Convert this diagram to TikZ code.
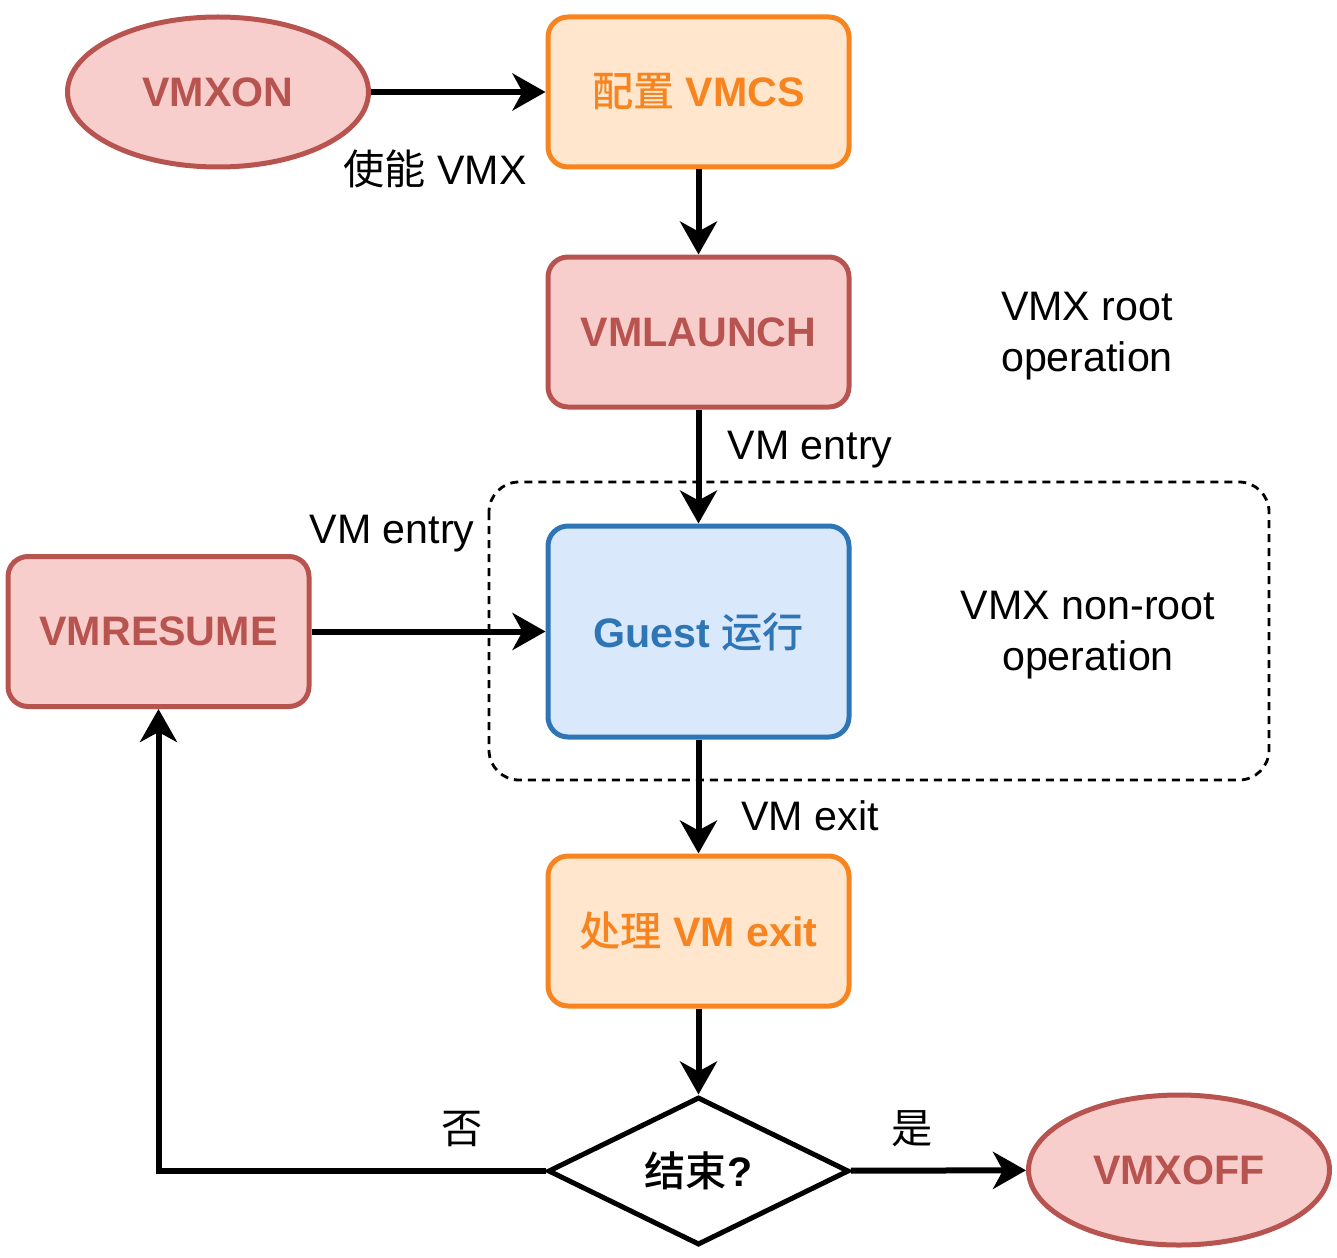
\documentclass[tikz,border=0pt]{standalone}
\usepackage{fontspec}
\setmainfont{Liberation Sans}
\newfontfamily\cjk{Noto Sans CJK SC}[BoldFont={Noto Sans CJK SC Medium}]
\usetikzlibrary{arrows.meta,shapes.geometric}
\definecolor{pinkfill}{HTML}{F8CECC}
\definecolor{pinkline}{HTML}{B85450}
\definecolor{orfill}{HTML}{FFE6CC}
\definecolor{orline}{HTML}{F7841E}
\definecolor{blfill}{HTML}{DAE8FC}
\definecolor{blline}{HTML}{2E75B6}
\begin{document}
\begin{tikzpicture}[x=0.5pt,y=-0.5pt,
  base/.style={line width=2.5pt, font=\fontsize{20.6pt}{24.7pt}\selectfont\bfseries, inner sep=0pt, align=center},
  pinkbox/.style={base, draw=pinkline, fill=pinkfill, text=pinkline, rounded corners=10pt, minimum width=150.5pt, minimum height=75pt},
  orbox/.style={base, draw=orline, fill=orfill, text=orline, rounded corners=10pt, minimum width=150.5pt, minimum height=75pt},
  blbox/.style={base, draw=blline, fill=blfill, text=blline, rounded corners=10pt, minimum width=150.5pt, minimum height=105.5pt},
  pinkell/.style={base, ellipse, draw=pinkline, fill=pinkfill, text=pinkline, minimum width=150.5pt, minimum height=75pt},
  decision/.style={base, diamond, draw=black, fill=white, minimum width=150.5pt, minimum height=74pt},
  lbl/.style={inner sep=0pt, align=center, font=\fontsize{20.6pt}{25.5pt}\selectfont},
  conn/.style={line width=3pt, -{Stealth[length=16.5pt,width=18.5pt,inset=5pt]}}
]
\useasboundingbox (0,0) rectangle (1337,1257);
% dashed region
\draw[line width=1.4pt, dash pattern=on 4pt off 3pt, rounded corners=15pt] (489,482) rectangle (1269,780);

\node[pinkell] (vmxon) at (218,92) {VMXON};
\node[orbox] (vmcs) at (698.5,92) {{\cjk 配置} VMCS};
\node[pinkbox] (launch) at (698.5,332) {VMLAUNCH};
\node[blbox] (guest) at (698.5,631.5) {Guest {\cjk 运行}};
\node[orbox] (handle) at (698.5,931) {{\cjk 处理} VM exit};
\node[decision] (dec) at (698.5,1171) {{\cjk 结束}?};
\node[pinkell] (vmxoff) at (1179,1170) {VMXOFF};
\node[pinkbox] (resume) at (158.5,631.5) {VMRESUME};

\node[lbl] (l1) at (435,169) {{\cjk 使能} VMX};
\node[lbl] (l2) at (1087,336) {VMX root\\operation};
\node[lbl] (l3) at (810,450) {VM entry};
\node[lbl] (l4) at (392,534) {VM entry};
\node[lbl] (l5) at (1088,635) {VMX non-root\\operation};
\node[lbl] (l6) at (810,816) {VM exit};
\node[lbl] (l7) at (462,1129) {\cjk 否};
\node[lbl] (l8) at (912,1129) {\cjk 是};

\draw[conn] (vmxon) -- (vmcs);
\draw[conn] (vmcs) -- (launch);
\draw[conn] (launch) -- (guest);
\draw[conn] (resume) -- (guest);
\draw[conn] (guest) -- (handle);
\draw[conn] (handle) -- (dec);
\draw[conn] (dec) -- (vmxoff);
\draw[conn] (dec.west) -| (resume.south);
\end{tikzpicture}
\end{document}
